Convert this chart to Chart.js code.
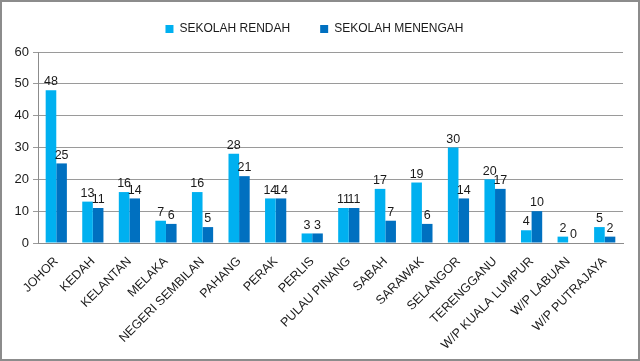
<!DOCTYPE html>
<html>
<head>
<meta charset="utf-8">
<script src="https://cdn.jsdelivr.net/npm/chart.js@4/dist/chart.umd.min.js"></script>
<style>
    html, body { margin: 0; padding: 0; background: #fff; }
    #wrap {
        width: 640px; height: 361px; box-sizing: border-box;
        border: 2px solid #8c8c8c; position: relative;
    }
    #chart { display: block; }
</style>
</head>
<body>
<div id="wrap"><canvas id="chart" width="636" height="357"></canvas></div>
<script>
// --- Data ---
const states = ['JOHOR', 'KEDAH', 'KELANTAN', 'MELAKA', 'NEGERI SEMBILAN', 'PAHANG', 'PERAK', 'PERLIS',
    'PULAU PINANG', 'SABAH', 'SARAWAK', 'SELANGOR', 'TERENGGANU', 'W/P KUALA LUMPUR', 'W/P LABUAN', 'W/P PUTRAJAYA'];
const sekolahRendah = [48, 13, 16, 7, 16, 28, 14, 3, 11, 17, 19, 30, 20, 4, 2, 5];
const sekolahMenengah = [25, 11, 14, 6, 5, 21, 14, 3, 11, 7, 6, 14, 17, 10, 0, 2];
const yTicks = [0, 10, 20, 30, 40, 50, 60];

const fontFamily = '"Liberation Sans", Arial, sans-serif';
const textColor = '#1a1a1a';

// Value labels above each bar
const valueLabels = {
    id: 'valueLabels',
    afterDatasetsDraw(chart) {
        const ctx = chart.ctx;
        ctx.save();
        ctx.font = '12.5px ' + fontFamily;
        ctx.fillStyle = textColor;
        ctx.textAlign = 'center';
        ctx.textBaseline = 'bottom';
        chart.data.datasets.forEach((ds, i) => {
            chart.getDatasetMeta(i).data.forEach((bar, j) => {
                ctx.fillText(ds.data[j], bar.x, bar.y - 2);
            });
        });
        ctx.restore();
    }
};

// Extra space between legend and plot
const legendGap = {
    id: 'legendGap',
    beforeInit(chart) {
        const fit = chart.legend.fit;
        chart.legend.fit = function () {
            fit.call(this);
            this.height += 7;
        };
    }
};

new Chart(document.getElementById('chart'), {
    type: 'bar',
    data: {
        labels: states,
        datasets: [
            { label: 'SEKOLAH RENDAH', data: sekolahRendah, backgroundColor: '#00b0f0' },
            { label: 'SEKOLAH MENENGAH', data: sekolahMenengah, backgroundColor: '#0070c0' }
        ]
    },
    options: {
        responsive: false,
        animation: false,
        layout: { padding: { left: 4, right: 15, top: -9, bottom: 4 } },
        datasets: { bar: { categoryPercentage: 0.58, barPercentage: 1.0 } },
        plugins: {
            legend: {
                position: 'top',
                labels: {
                    boxWidth: 8, boxHeight: 8, padding: 30,
                    color: textColor,
                    font: { family: fontFamily, size: 12 }
                }
            },
            tooltip: { enabled: false }
        },
        scales: {
            x: {
                grid: { display: false, drawTicks: true },
                border: { color: '#8c8c8c' },
                afterFit: axis => { axis.height = 112; },
                ticks: {
                    color: textColor, minRotation: 45, maxRotation: 45, autoSkip: false,
                    font: { family: fontFamily, size: 12.5 }
                }
            },
            y: {
                min: 0, max: 60,
                afterBuildTicks: axis => { axis.ticks = yTicks.map(v => ({ value: v })); },
                afterFit: axis => { axis.width = 32; },
                grid: { color: '#9a9a9a', tickLength: 5 },
                border: { color: '#8c8c8c' },
                ticks: { color: textColor, font: { family: fontFamily, size: 13 }, padding: 4 }
            }
        }
    },
    plugins: [valueLabels, legendGap]
});
</script>
</body>
</html>
